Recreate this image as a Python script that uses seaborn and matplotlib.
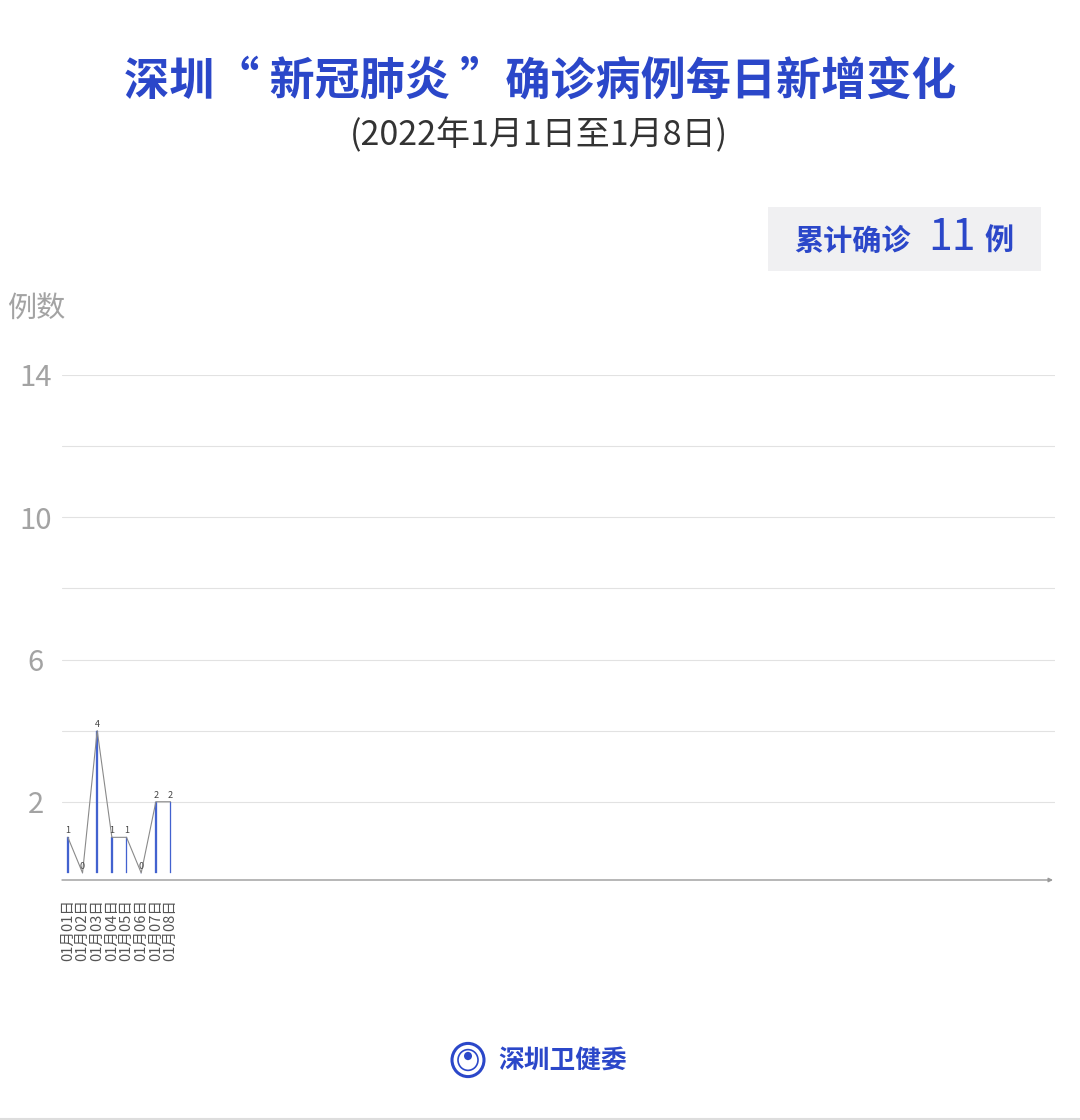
import matplotlib
matplotlib.use('Agg')
import matplotlib.pyplot as plt
import seaborn as sns
import numpy as np
import pandas as pd
from matplotlib.patches import Rectangle, Circle
from matplotlib.lines import Line2D

# data
dates = ['01月01日', '01月02日', '01月03日', '01月04日',
         '01月05日', '01月06日', '01月07日', '01月08日']
new_cases = [1, 0, 4, 1, 1, 0, 2, 2]
total_cases = 11
y_ticks = [2, 6, 10, 14]
grid_levels = [2, 4, 6, 8, 10, 12, 14]

title = '深圳“ 新冠肺炎 ”确诊病例每日新增变化'
subtitle = '(2022年1月1日至1月8日)'

BLUE = '#2b47c9'
BAR_BLUE = '#4262cf'
GREY = '#a3a3a3'

sns.set_theme(style='white')
plt.rcParams['font.family'] = ['Noto Sans CJK SC', 'DejaVu Sans']

W, H = 1080, 1120
fig = plt.figure(figsize=(W / 100, H / 100), dpi=100)


def px(x, y):
    return x / W, 1 - y / H


# axes placed to match the reference plot area
left, right = 62, 1055
top, bottom = 375, 880
ax = fig.add_axes([left / W, 1 - bottom / H, (right - left) / W, (bottom - top) / H])

df = pd.DataFrame({'date': dates, 'cases': new_cases, 'idx': np.arange(len(dates))})

sns.barplot(data=df, x='date', y='cases', color=BAR_BLUE, width=0.1,
            saturation=1, edgecolor=BAR_BLUE, linewidth=0.2, ax=ax)
sns.lineplot(data=df, x='idx', y='cases', color='#8a8a8a', linewidth=0.8, ax=ax)

for i, v in enumerate(new_cases):
    ax.annotate(str(v), (i, v), xytext=(0, 1.5), textcoords='offset points',
                ha='center', va='bottom', fontsize=6.5, color='#444444')

ax.set_xlim(-0.4, 67.3)
ax.set_ylim(-0.2, 14)

for g in grid_levels:
    ax.axhline(g, color='#e2e2e2', linewidth=0.8, zorder=0)

ax.set_yticks(y_ticks)
ax.set_yticklabels([str(t) for t in y_ticks], fontsize=21, color=GREY,
                   fontweight='light')
for lab in ax.get_yticklabels():
    lab.set_horizontalalignment('center')
ax.tick_params(axis='y', length=0, pad=19)

ax.set_xticks(range(len(dates)))
ax.set_xticklabels(dates, rotation=90, fontsize=10.5, color='#555555')
ax.tick_params(axis='x', length=0, pad=14)

ax.set_xlabel('')
ax.set_ylabel('')
for s in ax.spines.values():
    s.set_visible(False)

# x axis line with small arrow head
ax.annotate('', xy=(0.998, 0), xytext=(0.0, 0), xycoords='axes fraction',
            arrowprops=dict(arrowstyle='-|>', color='#9a9a9a', lw=1,
                            mutation_scale=6, shrinkA=0, shrinkB=0))

# titles
fig.text(*px(540, 82), title, ha='center', va='center', fontsize=32.5,
         fontweight='bold', color=BLUE)
fig.text(*px(539, 136), subtitle, ha='center', va='center', fontsize=24.5,
         color='#333333', fontweight='light')

# total badge
fig.add_artist(Rectangle(px(768, 271), (1041 - 768) / W, (271 - 207) / H,
                         transform=fig.transFigure, facecolor='#f0f0f2',
                         edgecolor='none'))
fig.text(*px(794, 241), '累计确诊', ha='left', va='center', fontsize=21,
         fontweight='bold', color=BLUE)
fig.text(*px(952, 238), str(total_cases), ha='center', va='center',
         fontsize=31, fontweight='medium', color=BLUE)
fig.text(*px(984, 241), '例', ha='left', va='center', fontsize=21,
         fontweight='bold', color=BLUE)

fig.text(*px(7, 310), '例数', ha='left', va='center', fontsize=21,
         color=GREY, fontweight='light')

# footer logo and name
fig.add_artist(Circle(px(468, 1060), 16 / W, transform=fig.transFigure,
                      facecolor='white', edgecolor=BLUE, linewidth=2.2))
fig.add_artist(Circle(px(468, 1060), 10 / W, transform=fig.transFigure,
                      facecolor='white', edgecolor=BLUE, linewidth=1.2))
fig.add_artist(Circle(px(468, 1056), 4 / W, transform=fig.transFigure,
                      facecolor=BLUE, edgecolor='none'))
fig.text(*px(498, 1060), '深圳卫健委', ha='left', va='center', fontsize=18.5,
         fontweight='bold', color=BLUE)

fig.add_artist(Line2D([0, 1], [1 - 1118.5 / H] * 2, transform=fig.transFigure,
                      color='#dddddd', linewidth=1.5))

fig.savefig('out.png', dpi=100, facecolor='white')
plt.close(fig)
